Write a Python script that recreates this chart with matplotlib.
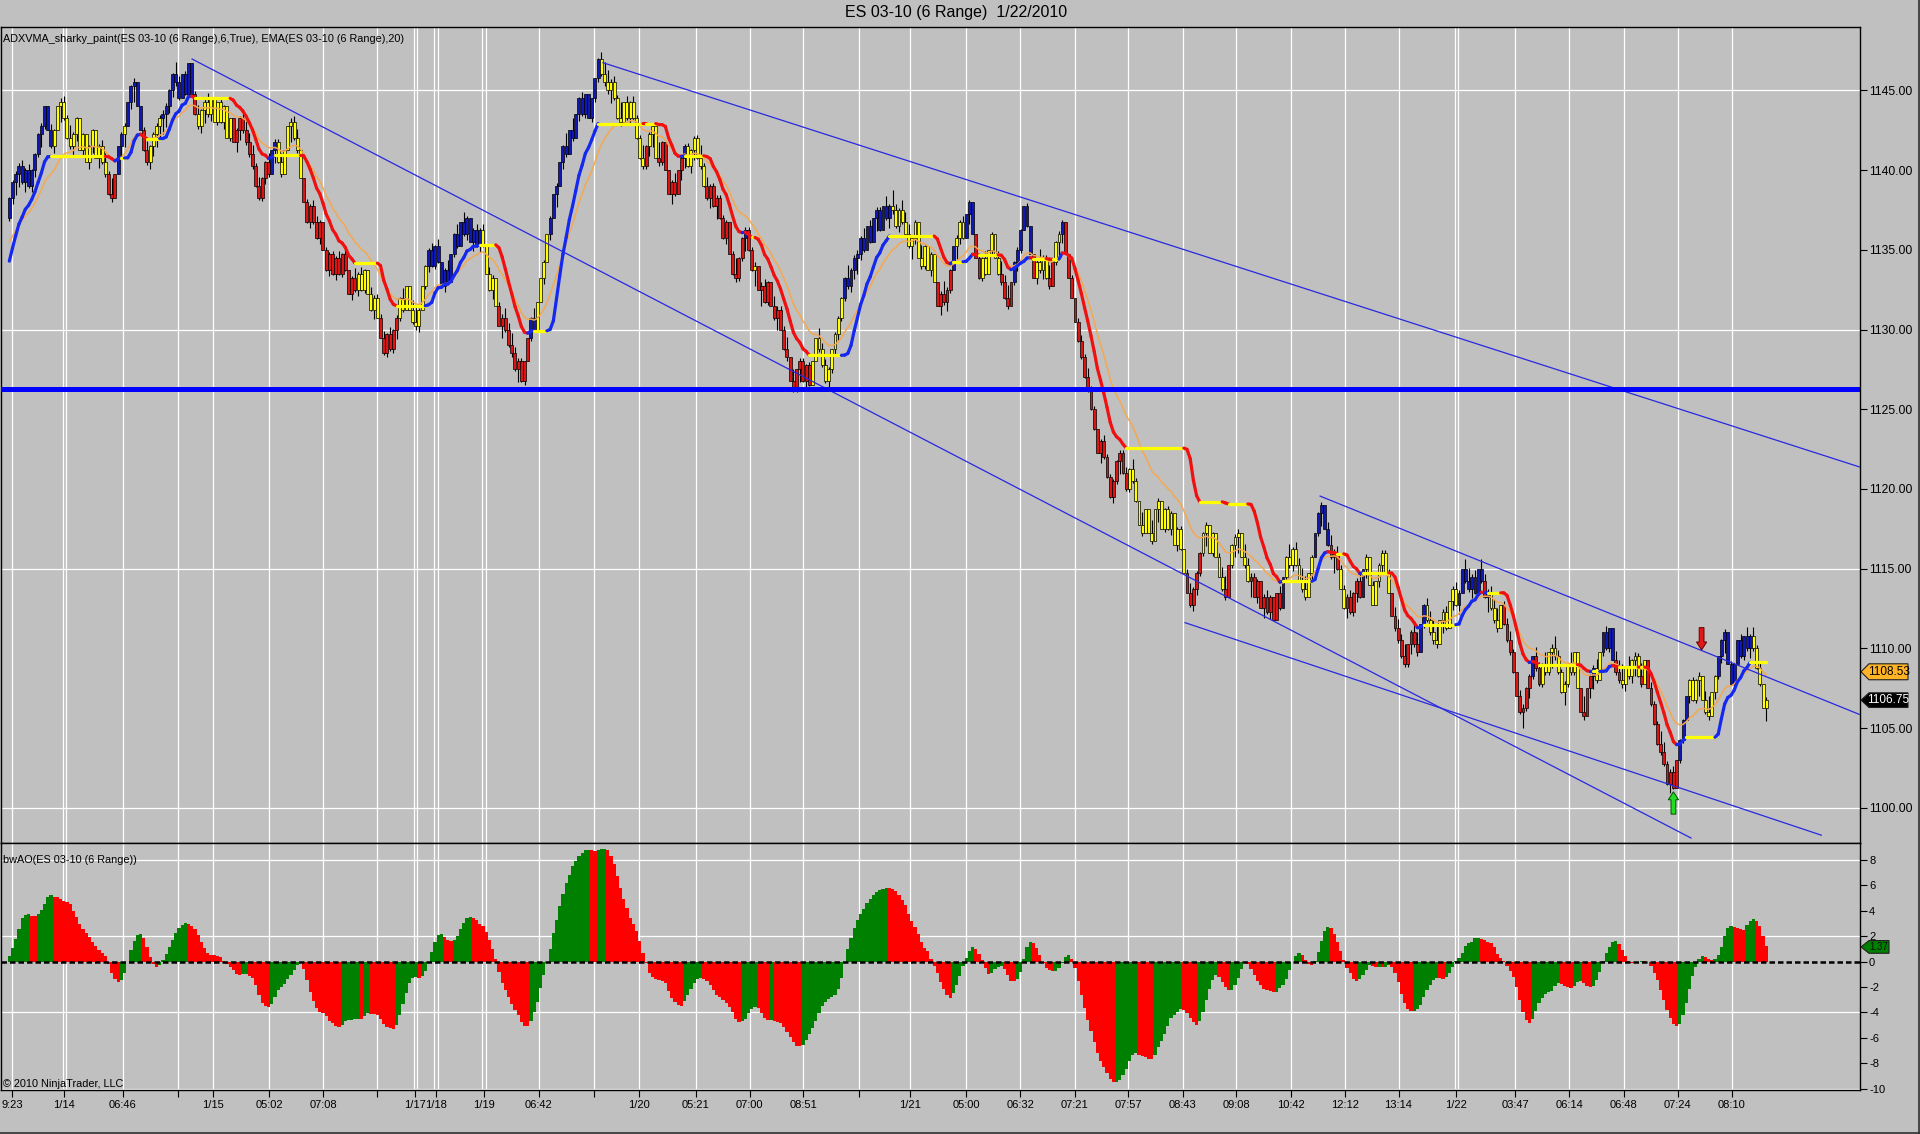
import numpy as np
import matplotlib
matplotlib.use("Agg")
import matplotlib.pyplot as plt
from matplotlib.collections import LineCollection
from matplotlib.patches import Polygon, FancyArrow
from matplotlib.lines import Line2D
from matplotlib.transforms import blended_transform_factory

plt.rcParams['font.family'] = ['Liberation Sans', 'DejaVu Sans']

# ---------------- data ----------------
closes = [
    1138.25, 1139.25, 1139.75, 1140.25, 1139.25, 1140.0, 1139.0, 1140.0, 1141.0, 1142.25,
    1142.75, 1144.0, 1142.5, 1141.5, 1142.5, 1144.0, 1144.25, 1143.25, 1142.0, 1141.5,
    1142.25, 1143.25, 1141.25, 1142.25, 1140.5, 1141.5, 1142.5, 1140.75, 1141.5, 1140.5,
    1139.75, 1138.5, 1138.25, 1139.75, 1141.5, 1142.25, 1142.75, 1144.25, 1145.25, 1145.5,
    1144.0, 1142.5, 1141.25, 1140.5, 1141.5, 1142.25, 1142.75, 1143.25, 1143.5, 1144.0,
    1145.0, 1146.0, 1145.5, 1144.5, 1146.0, 1144.75, 1146.75,
    1144.75, 1143.5, 1142.75, 1143.75, 1144.25, 1143.5, 1144.5, 1143.0, 1144.25, 1143.0,
    1144.0, 1142.0, 1143.25, 1141.75, 1142.5, 1143.25, 1142.5, 1141.75, 1141.0, 1140.25,
    1139.0, 1138.25, 1139.5, 1140.5, 1139.75, 1141.25, 1141.75, 1140.5, 1139.75, 1141.25,
    1142.75, 1143.0, 1142.0, 1141.25, 1139.5, 1138.0, 1136.75, 1137.75, 1136.75, 1135.75,
    1136.75, 1135.0, 1133.75,
    1134.75, 1133.5, 1134.5, 1133.5, 1134.75, 1133.75, 1132.25, 1133.25, 1132.5, 1133.5,
    1132.5, 1133.75, 1132.25, 1131.25, 1132.0, 1130.75, 1129.5, 1128.5, 1129.75, 1128.75,
    1130.0, 1130.75, 1132.0, 1131.25, 1132.75, 1131.25, 1130.5, 1130.25, 1131.25, 1132.75,
    1134.0, 1135.0, 1134.0, 1135.25, 1134.25, 1132.75, 1133.75, 1133.0, 1134.75, 1136.0,
    1135.25, 1136.75, 1136.0, 1137.0, 1135.5, 1136.25, 1135.25, 1136.25, 1135.25, 1133.5,
    1132.5, 1133.25, 1131.5, 1130.25, 1130.75, 1130.0, 1129.0, 1128.5, 1127.5, 1128.0,
    1126.75, 1128.0, 1129.5, 1130.75, 1130.0, 1131.75, 1133.25, 1134.25, 1136.0, 1137.0,
    1138.5, 1139.0, 1140.5, 1141.5, 1141.0, 1142.5, 1142.0, 1143.5, 1144.5, 1143.5,
    1144.75, 1143.25, 1144.5, 1145.75, 1147.0,
    1146.0, 1145.5, 1145.0, 1145.5, 1144.5, 1143.25, 1143.0, 1144.25, 1143.25, 1144.25,
    1143.25, 1142.0, 1140.75, 1140.25, 1141.5, 1142.25, 1142.75, 1140.75, 1140.5, 1141.75,
    1140.0, 1138.5, 1139.25, 1138.5, 1140.0, 1140.75, 1141.5, 1140.25, 1141.25, 1142.0,
    1140.75, 1140.25, 1139.0, 1138.25, 1139.0, 1137.75, 1138.25, 1137.0, 1135.75, 1136.75,
    1134.75,
    1133.5, 1133.25, 1134.5, 1135.75, 1136.25, 1135.0, 1133.75, 1134.0, 1132.5, 1132.75,
    1131.75, 1133.0, 1131.5, 1130.75, 1131.25, 1130.0,
    1128.75, 1128.25, 1126.75, 1126.25, 1127.5, 1128.0, 1126.75, 1127.75, 1126.5,
    1128.0, 1129.5, 1128.75, 1127.75, 1126.75, 1127.5, 1128.75, 1129.75, 1130.75, 1132.0,
    1133.25, 1132.75, 1133.75, 1134.5, 1134.75, 1135.75, 1135.0, 1136.5, 1135.5, 1137.0,
    1137.5, 1136.25, 1137.75, 1137.0, 1137.75, 1137.5, 1136.5,
    1137.5, 1136.75, 1136.0, 1135.25, 1135.75, 1136.75, 1134.5, 1134.0, 1135.25, 1133.75,
    1134.75, 1133.0, 1131.5, 1132.25, 1131.75, 1132.5, 1133.75, 1135.25, 1135.75, 1136.75,
    1135.75, 1137.25, 1138.0, 1136.0, 1134.5, 1133.25, 1134.5, 1133.5, 1135.0, 1136.0,
    1134.5, 1133.5, 1133.0, 1132.0, 1131.5, 1133.0, 1134.25, 1135.0, 1136.25, 1137.75,
    1136.5, 1134.75, 1133.25, 1134.25, 1133.75, 1134.5, 1133.25, 1132.75, 1134.25, 1135.5,
    1136.0, 1136.75, 1134.75, 1133.25,
    1132.0, 1130.5, 1129.25, 1128.25, 1127.0, 1126.25, 1125.0, 1123.75, 1122.25, 1123.0,
    1122.0, 1120.75, 1119.5, 1120.5, 1121.75, 1122.25, 1121.0, 1120.0, 1121.25, 1120.5,
    1119.25, 1117.75, 1117.25, 1118.75, 1117.25, 1116.75, 1118.75, 1119.25, 1117.5, 1118.75,
    1117.5, 1118.5, 1116.5, 1117.5, 1116.25, 1114.75, 1113.5, 1112.75, 1113.75, 1114.75,
    1116.0, 1117.25, 1117.75, 1116.0, 1117.25, 1115.75, 1114.5, 1113.75, 1113.25, 1115.25,
    1116.5, 1117.0, 1117.25, 1115.75, 1115.25, 1114.25, 1114.5, 1113.25, 1114.25, 1112.5,
    1113.25, 1112.25, 1113.25, 1111.75, 1113.5, 1112.5, 1114.5, 1115.75, 1115.25, 1116.25,
    1115.25, 1114.25, 1113.75, 1113.25, 1114.75, 1115.75, 1117.25, 1118.5, 1119.0, 1117.5,
    1116.5, 1115.75,
    1116.0, 1115.0, 1113.75, 1112.5, 1113.25, 1112.25, 1113.5, 1114.25, 1113.25, 1115.0,
    1115.75, 1114.0, 1112.75, 1114.25, 1115.25, 1116.0, 1114.75, 1113.5, 1112.0, 1111.25,
    1110.5, 1109.5, 1109.0, 1110.25, 1111.0, 1110.25, 1109.75, 1111.5, 1112.75, 1111.75,
    1111.0, 1110.5, 1110.25, 1111.75, 1112.25, 1111.25, 1113.0, 1113.75, 1112.75, 1113.5,
    1115.0, 1114.25, 1113.75, 1114.5, 1113.5, 1115.0, 1114.25, 1113.25, 1113.5, 1112.5,
    1111.75, 1111.25, 1112.75, 1111.5, 1110.5, 1109.75, 1108.5,
    1107.0, 1106.0, 1106.25, 1107.5, 1108.25, 1109.5, 1108.75, 1107.75, 1109.0, 1108.5,
    1109.75, 1110.0, 1109.5, 1108.5, 1107.25, 1107.75, 1109.0, 1108.5, 1109.75, 1107.5,
    1106.0, 1105.75, 1107.5, 1108.25, 1108.75, 1108.0, 1109.75, 1111.0, 1110.0, 1111.25,
    1109.25, 1108.5, 1108.0, 1107.75, 1108.75, 1108.25, 1109.25, 1109.5, 1108.25, 1107.75,
    1109.25, 1107.5, 1106.5, 1105.25, 1104.0, 1103.5, 1102.75, 1101.5, 1102.25, 1101.25,
    1103.0, 1104.25, 1105.5, 1107.0, 1108.0, 1106.75, 1108.0, 1108.25, 1106.75, 1106.0,
    1105.75, 1107.25, 1108.25, 1109.5, 1110.5, 1111.0, 1109.0, 1107.75, 1109.0, 1110.5,
    1109.5, 1110.75, 1110.0, 1110.75, 1110.0, 1108.75, 1107.75, 1106.25, 1106.75,
]
first_open = 1137.0
bar_range = 1.5            # 6-tick range bars

adxvma_period = 6
adxvma_start = 1133.5
# indicator state carried in from bars before the visible window (uptrend)
adx_seed_pdm, adx_seed_mdm = 0.5, 0.1
adx_seed_pdi, adx_seed_mdi = 0.85, 0.15
adx_seed_out = 0.1
ema_period = 20
ema_start = 1135.2
ao_fast, ao_slow = 5, 34
ao_seed = 1135.0

price_ticks = [1100, 1105, 1110, 1115, 1120, 1125, 1130, 1135, 1140, 1145]
price_grid = [1100, 1115, 1130, 1145]
ao_ticks = [-10, -8, -6, -4, -2, 0, 2, 4, 6, 8]
ao_grid = [-10, -4, 2, 8]

time_tick_bars = [0.9, 17.2, 35.4, 52.6, 63.7, 81.3, 98.1, 114.9, 126.8, 133.3, 148.3,
                  165.5, 182.7, 196.9, 214.5, 231.3, 248.1, 265.4, 281.4, 299.0, 315.9,
                  332.9, 349.7, 366.6, 383.4, 400.5, 417.3, 434.1, 452.1, 470.5, 487.5,
                  504.4, 521.4, 538.2]
time_tick_labels = ['9:23', '1/14', '06:46', '', '1/15', '05:02', '07:08', '', '1/17', '1/18',
                    '1/19', '06:42', '', '1/20', '05:21', '07:00', '08:51', '', '1/21', '05:00',
                    '06:32', '07:21', '07:57', '08:43', '09:08', '10:42', '12:12', '13:14',
                    '1/22', '03:47', '06:14', '06:48', '07:24', '08:10']
double_tick_labels = ['1/14', '1/17', '1/18', '1/19', '1/22']

# drawn trend lines: (bar0, price0, bar1, price1)
trend_lines = [
    (57.1, 1146.97, 525.5, 1098.10),
    (185.5, 1146.74, 578.3, 1121.37),
    (409.6, 1119.55, 578.3, 1105.84),
    (367.4, 1111.61, 566.2, 1098.28),
]
support_price = 1126.25
buy_arrows = [(520.0, 1099.6, 1101.0)]     # bar, tail price, tip price
sell_arrows = [(528.8, 1111.3, 1109.9)]
ema_marker = 1108.53
last_marker = 1106.75
ao_marker_text = 1.37
ao_marker_pos = 1.15

title = 'ES 03-10 (6 Range)  1/22/2010'
main_label = 'ADXVMA_sharky_paint(ES 03-10 (6 Range),6,True), EMA(ES 03-10 (6 Range),20)'
ao_label = 'bwAO(ES 03-10 (6 Range))'
copyright_label = '\u00a9 2010 NinjaTrader, LLC'

# ---------------- derived bars & indicators ----------------
c = np.array(closes, dtype=float)
n = len(c)
x = np.arange(n)
o = np.concatenate([[first_open], c[:-1]])
body = np.abs(c - o)
extra = np.clip(bar_range - body, 0, None)
up = c >= o
top = np.maximum(o, c)
bot = np.minimum(o, c)
high = np.where(up, top + 0.2 * extra, top + 0.8 * extra)
low = np.where(up, bot - 0.8 * extra, bot - 0.2 * extra)

# ADXVMA
k = 1.0 / adxvma_period
pdm, mdm = adx_seed_pdm, adx_seed_mdm
pdi, mdi = adx_seed_pdi, adx_seed_mdi
out = adx_seed_out
outs = [out]
adx = np.zeros(n)
prev_v, prev_c = adxvma_start, first_open
for i in range(n):
    d = c[i] - prev_c
    pdm = (1 - k) * pdm + k * max(d, 0.0)
    mdm = (1 - k) * mdm + k * max(-d, 0.0)
    s = pdm + mdm
    pdi = (1 - k) * pdi + k * (pdm / s if s > 1e-12 else 0.0)
    mdi = (1 - k) * mdi + k * (mdm / s if s > 1e-12 else 0.0)
    s2 = pdi + mdi
    out = (1 - k) * out + k * (abs(pdi - mdi) / s2 if s2 > 1e-12 else 0.0)
    outs.append(out)
    w = outs[-adxvma_period:]
    hi_, lo_ = max(w), min(w)
    vi = (out - lo_) / (hi_ - lo_) if hi_ - lo_ > 1e-12 else 0.0
    v = (1 - k * vi) * prev_v + k * vi * c[i]
    adx[i] = v
    prev_v, prev_c = v, c[i]
adx_prev = np.concatenate([[adxvma_start], adx[:-1]])
slope = adx - adx_prev
dirs = np.where(slope > 1e-9, 1, np.where(slope < -1e-9, -1, 0))

# EMA
alpha = 2.0 / (ema_period + 1)
ema = np.zeros(n)
e = ema_start
for i in range(n):
    e = e + alpha * (c[i] - e)
    ema[i] = e

# Awesome oscillator
med = (high + low) / 2.0
def seeded_sma(arr, p, seed):
    res = np.zeros(len(arr))
    for i in range(len(arr)):
        win = arr[max(0, i - p + 1):i + 1]
        res[i] = (win.sum() + (p - len(win)) * seed) / p
    return res
ao = seeded_sma(med, ao_fast, ao_seed) - seeded_sma(med, ao_slow, ao_seed)
ao_prev = np.concatenate([[ao[0] - 1], ao[:-1]])
ao_cols = np.where(ao > ao_prev, '#008000', '#FF0000')

# ---------------- figure ----------------
W, H = 1920, 1134
BG = '#C0C0C0'
fig = plt.figure(figsize=(W / 100, H / 100), dpi=100, facecolor=BG)
def fx(px):
    return px / W
def fy(py):
    return 1 - py / H
ax = fig.add_axes([fx(1), fy(842.5), fx(1860) - fx(1), fy(27.3) - fy(842.5)], facecolor=BG)
ax2 = fig.add_axes([fx(1), fy(1090), fx(1860) - fx(1), fy(842.5) - fy(1090)], facecolor=BG, sharex=ax)

xmin, xmax = -2.6, 578.3
ax.set_xlim(xmin, xmax)
ax.set_ylim(1097.82, 1148.96)
ax2.set_ylim(-10.1, 9.36)

# grid lines
grid_x = []
for b, lab in zip(time_tick_bars, time_tick_labels):
    if lab in double_tick_labels:
        grid_x += [b - 0.5, b + 0.5]
    else:
        grid_x.append(b)
for gx in grid_x:
    ax.axvline(gx, color='white', lw=0.9, zorder=0.5)
    ax2.axvline(gx, color='white', lw=0.9, zorder=0.5)
for gy in price_grid:
    ax.axhline(gy, color='white', lw=0.9, zorder=0.5)
for gy in ao_grid:
    ax2.axhline(gy, color='white', lw=0.9, zorder=0.5)

# candles
pal = {1: '#1018B4', -1: '#DC1414', 0: '#FFFF00'}
cols = [pal[d] for d in dirs]
ax.vlines(x, low, high, color='black', lw=0.8, zorder=2)
hgt = c - o
hgt = np.where(np.abs(hgt) < 0.1, 0.1, hgt)
ax.bar(x, hgt, bottom=o, width=0.92, color=cols, edgecolor='black', linewidth=0.5, zorder=3)

# EMA
ax.plot(x, ema, color='#F4A850', lw=1.1, zorder=4)

# ADXVMA coloured line
lpal = {1: '#1428F0', -1: '#F01010', 0: '#FFFF00'}
segs = [[(i - 1, adx_prev[i]), (i, adx[i])] for i in range(1, n)]
lc = LineCollection(segs, colors=[lpal[d] for d in dirs[1:]], linewidths=2.3, zorder=5,
                    capstyle='round')
ax.add_collection(lc)

# trend lines and support
for (b0, p0, b1, p1) in trend_lines:
    ax.plot([b0, b1], [p0, p1], color='#2828E0', lw=0.9, zorder=6)
ax.axhline(support_price, color='#0000FF', lw=3.6, zorder=6)

# signal arrows
for (b, p0, p1) in buy_arrows:
    ax.add_patch(FancyArrow(b, p0, 0, p1 - p0, width=1.5, head_width=3.2, head_length=0.5,
                            length_includes_head=True, fc='#22DD22', ec='#005000', lw=0.7, zorder=7))
for (b, p0, p1) in sell_arrows:
    ax.add_patch(FancyArrow(b, p0, 0, p1 - p0, width=1.5, head_width=3.2, head_length=0.5,
                            length_includes_head=True, fc='#E01818', ec='#600000', lw=0.7, zorder=7))

# AO histogram
ax2.bar(x, ao, width=1.0, color=ao_cols, linewidth=0, zorder=2)
ax2.axhline(0, color='black', lw=1.8, linestyle=(0, (2.2, 1.2)), zorder=3)

# axes cosmetics
for a in (ax, ax2):
    for sp in a.spines.values():
        sp.set_color('black')
        sp.set_linewidth(1.0)
    a.yaxis.tick_right()
    a.tick_params(axis='y', which='both', left=False, right=True, labelleft=False,
                  labelright=True, direction='out', length=5, pad=1.5, labelsize=8.7, colors='black')
ax.set_yticks(price_ticks)
ax.set_yticklabels([f'{p:.2f}' for p in price_ticks])
ax2.set_yticks(ao_ticks)
ax2.set_yticklabels([str(t) for t in ao_ticks])
ax2.tick_params(axis='y', labelsize=8)
ax.tick_params(axis='x', bottom=False, labelbottom=False)
ax2.set_xticks(time_tick_bars)
ax2.set_xticklabels(time_tick_labels)
ax2.tick_params(axis='x', direction='out', length=5, pad=2, labelsize=8, colors='black')
ax.set_xlim(xmin, xmax)

# texts
fig.text(fx(956), fy(12.5), title, ha='center', va='center', fontsize=11.5, color='black')
fig.text(fx(3), fy(39), main_label, ha='left', va='center', fontsize=7.8, color='black')
fig.text(fx(3), fy(860), ao_label, ha='left', va='center', fontsize=7.8, color='black')
fig.text(fx(3), fy(1084), copyright_label, ha='left', va='center', fontsize=7.8, color='black')

# right-side value markers
def value_marker(axis, value, text, fc, tc, x_right, half_h, fs):
    tr = blended_transform_factory(fig.transFigure, axis.transData)
    xt, xl, xr = fx(1861), fx(1869), fx(x_right)
    poly = Polygon([[xt, value], [xl, value + half_h], [xr, value + half_h],
                    [xr, value - half_h], [xl, value - half_h]], closed=True,
                   transform=tr, fc=fc, ec='#202020', lw=0.8, clip_on=False, zorder=20)
    fig.add_artist(poly)
    fig.text((xl + xr) / 2, value, text, transform=tr, ha='center', va='center',
             fontsize=fs, color=tc, zorder=21)

value_marker(ax, ema_marker, f'{ema_marker:.2f}', '#FFB428', 'black', 1908, 0.5, 8.5)
value_marker(ax, last_marker, f'{last_marker:.2f}', 'black', 'white', 1908, 0.46, 8.5)
value_marker(ax2, ao_marker_pos, f'{ao_marker_text:.2f}', '#008000', '#101010', 1889, 0.5, 7)

# outer frame lines
fig.add_artist(Line2D([0, 1], [fy(1132.5), fy(1132.5)], transform=fig.transFigure, color='#303030', lw=1.2))
fig.add_artist(Line2D([fx(1918.5), fx(1918.5)], [0, 1], transform=fig.transFigure, color='#303030', lw=1.2))

fig.savefig('out.png', dpi=100, facecolor=BG)
